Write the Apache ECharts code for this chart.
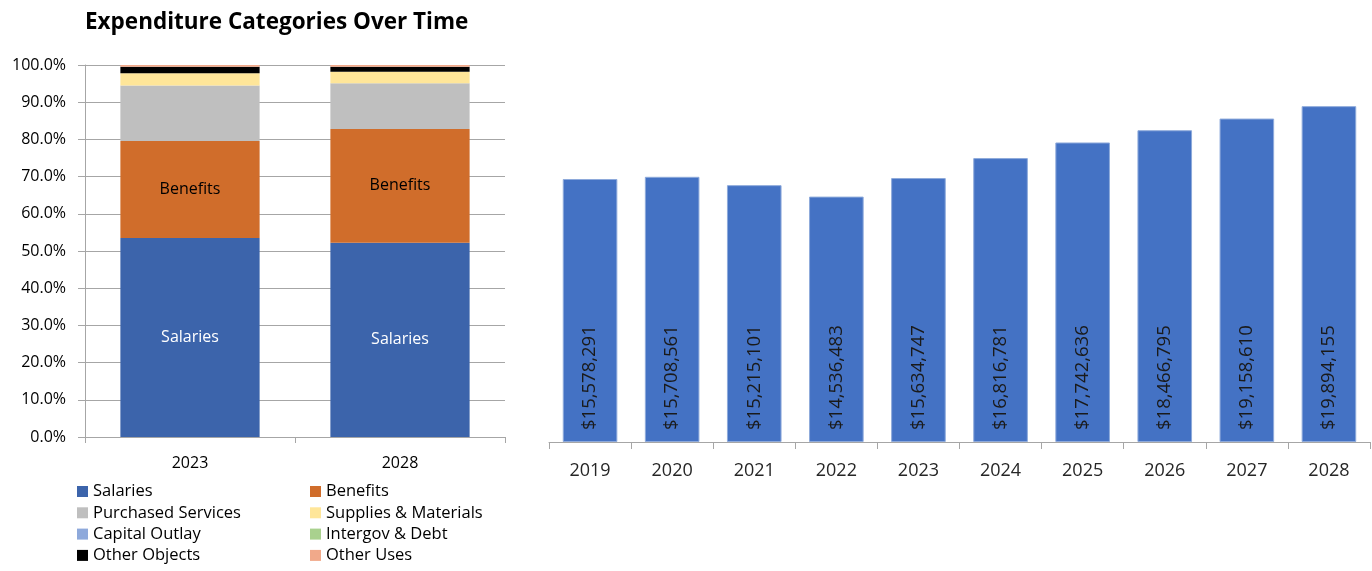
<!DOCTYPE html>
<html>
<head>
<meta charset="utf-8">
<script src="https://cdn.jsdelivr.net/npm/echarts@6/dist/echarts.min.js"></script>
<style>
html,body{margin:0;padding:0;background:#fff;}
#c{width:1372px;height:571px;}
</style>
</head>
<body>
<div id="c"></div>
<script>
// ---- Data ----
const shareYears = ['2023', '2028'];
const salaries = [53.5, 52.2];
const benefits = [26.1, 30.6];
const purchasedServices = [14.9, 12.3];
const suppliesMaterials = [3.3, 3.1];
const capitalOutlay = [0, 0];
const intergovDebt = [0, 0];
const otherObjects = [1.7, 1.3];
const otherUses = [0.5, 0.5];

const totalYears = ['2019', '2020', '2021', '2022', '2023', '2024', '2025', '2026', '2027', '2028'];
const totals = [15578291, 15708561, 15215101, 14536483, 15634747, 16816781, 17742636, 18466795, 19158610, 19894155];

const pctTicks = [0, 10, 20, 30, 40, 50, 60, 70, 80, 90, 100];

// ---- Chart ----
const FONT = 'Open Sans';
const chart = echarts.init(document.getElementById('c'), null, {renderer: 'canvas'});

function stackSeries(name, data, color, label) {
  return {
    name: name, type: 'bar', stack: 'share', xAxisIndex: 0, yAxisIndex: 0,
    data: data, barWidth: '66.3%',
    itemStyle: {color: color},
    label: label || {show: false},
    emphasis: {disabled: true}
  };
}

const legendCommon = {
  orient: 'vertical', icon: 'rect', itemWidth: 11, itemHeight: 11, itemGap: 4.3,
  padding: 0, height: 88, width: 220,
  selectedMode: false,
  textStyle: {fontFamily: FONT, fontSize: 16.5, color: '#000', lineHeight: 16}
};

const option = {
  animation: false,
  title: {
    text: 'Expenditure Categories Over Time',
    left: 80, top: 6,
    textStyle: {fontFamily: FONT, fontWeight: 'bold', fontSize: 22.5, color: '#000'}
  },
  legend: [
    Object.assign({left: 77, top: 483, data: ['Salaries', 'Purchased Services', 'Capital Outlay', 'Other Objects']}, legendCommon),
    Object.assign({left: 310, top: 483, data: ['Benefits', 'Supplies & Materials', 'Intergov & Debt', 'Other Uses']}, legendCommon)
  ],
  grid: [
    {left: 85, right: 867, top: 65, bottom: 134},
    {left: 549, right: 2, top: 70.6, bottom: 129}
  ],
  xAxis: [
    {
      gridIndex: 0, type: 'category', data: shareYears,
      axisLine: {lineStyle: {color: '#a6a6a6', width: 1}},
      axisTick: {show: true, length: 6, lineStyle: {color: '#a6a6a6'}},
      axisLabel: {fontFamily: FONT, fontSize: 16, color: '#000', margin: 18}
    },
    {
      gridIndex: 1, type: 'category', data: totalYears,
      axisLine: {lineStyle: {color: '#a6a6a6', width: 1}},
      axisTick: {show: true, length: 7, lineStyle: {color: '#a6a6a6'}},
      axisLabel: {fontFamily: FONT, fontSize: 18, color: '#262626', margin: 20}
    }
  ],
  yAxis: [
    {
      gridIndex: 0, type: 'value', min: pctTicks[0], max: pctTicks[pctTicks.length - 1], interval: 10,
      axisLine: {show: true, lineStyle: {color: '#a6a6a6'}},
      axisTick: {show: true, length: 7, lineStyle: {color: '#a6a6a6'}},
      splitLine: {show: true, lineStyle: {color: '#a6a6a6', width: 1}},
      axisLabel: {fontFamily: FONT, fontSize: 16, color: '#000', margin: 19,
        formatter: v => v.toFixed(1) + '%'}
    },
    {
      gridIndex: 1, type: 'value', min: 0, max: 22000000,
      show: false, splitLine: {show: false}
    }
  ],
  series: [
    stackSeries('Salaries', salaries, '#3C64AB', {show: true, position: 'inside', formatter: '{a}', color: '#fff', fontFamily: FONT, fontSize: 16}),
    stackSeries('Benefits', benefits, '#D06D2B', {show: true, position: 'inside', formatter: '{a}', color: '#000', fontFamily: FONT, fontSize: 16}),
    stackSeries('Purchased Services', purchasedServices, '#BFBFBF'),
    stackSeries('Supplies & Materials', suppliesMaterials, '#FFE699'),
    stackSeries('Capital Outlay', capitalOutlay, '#8EA9DB'),
    stackSeries('Intergov & Debt', intergovDebt, '#A9D18E'),
    stackSeries('Other Objects', otherObjects, '#000000'),
    stackSeries('Other Uses', otherUses, '#F1A98A'),
    {
      name: 'Total', type: 'bar', xAxisIndex: 1, yAxisIndex: 1,
      data: totals, barWidth: '66.5%',
      itemStyle: {color: '#4472C4', borderColor: '#8EAADB', borderWidth: 1},
      emphasis: {disabled: true},
      label: {
        show: true, position: 'insideBottom', rotate: 90, align: 'left', verticalAlign: 'middle',
        distance: 12, fontFamily: FONT, fontSize: 18.5, color: '#1a1a1a',
        formatter: p => '$' + p.value.toLocaleString('en-US')
      }
    }
  ]
};
chart.setOption(option);
</script>
</body>
</html>
